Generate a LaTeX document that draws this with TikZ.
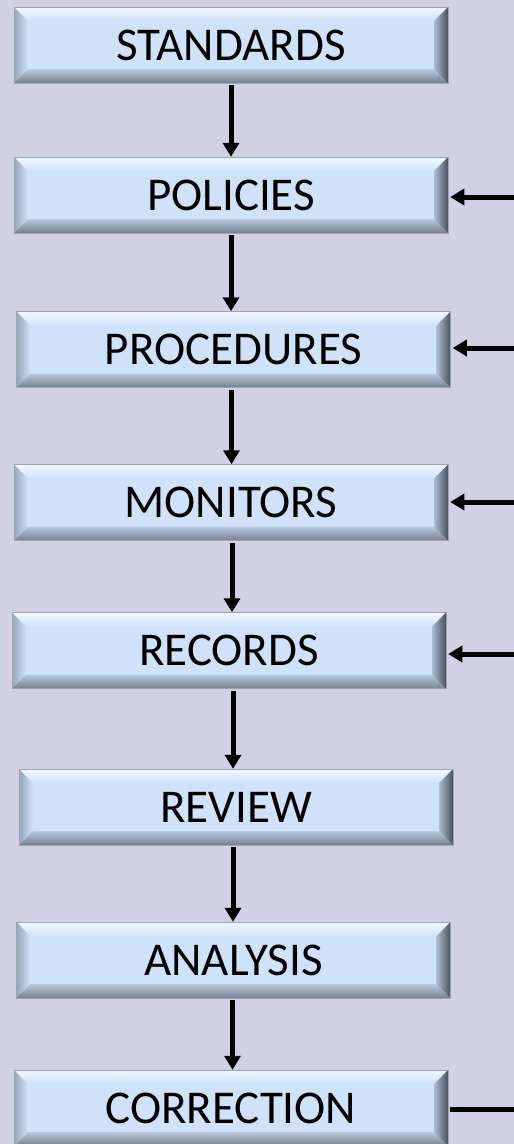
\documentclass[tikz,border=0pt]{standalone}
\usepackage{fontspec}
\setmainfont{Carlito}
\usetikzlibrary{arrows.meta}

\definecolor{bgcol}{HTML}{D2D0E4}
\definecolor{boxface}{HTML}{CFE2FA}
\definecolor{bevtop}{HTML}{F2F8FF}
\definecolor{bevleft}{HTML}{97A5B9}
\definecolor{bevright}{HTML}{48505E}
\definecolor{bevrightin}{HTML}{AEBDD2}
\definecolor{bevbot}{HTML}{76808F}
\definecolor{bevbotin}{HTML}{B9C9DE}
\definecolor{boxedge}{HTML}{9AA4B4}

\tikzset{
  bevelbox/.style={
    rectangle, minimum width=434pt, minimum height=76pt, inner sep=0pt,
    fill=boxface, draw=boxedge, line width=0.5pt,
    font=\fontsize{47}{50}\selectfont, text=black,
    path picture={
      \coordinate (ppnw) at (path picture bounding box.north west);
      \coordinate (ppne) at (path picture bounding box.north east);
      \coordinate (ppsw) at (path picture bounding box.south west);
      \coordinate (ppse) at (path picture bounding box.south east);
      % top bevel
      \shade[top color=bevtop, bottom color=boxface]
        (ppnw) -- (ppne) -- ([shift={(-14pt,-14pt)}]ppne) -- ([shift={(14pt,-14pt)}]ppnw) -- cycle;
      % left bevel
      \shade[left color=bevleft, right color=boxface]
        (ppnw) -- ([shift={(14pt,-14pt)}]ppnw) -- ([shift={(14pt,14pt)}]ppsw) -- (ppsw) -- cycle;
      % bottom bevel
      \shade[top color=bevbotin, bottom color=bevbot]
        (ppsw) -- ([shift={(14pt,14pt)}]ppsw) -- ([shift={(-14pt,14pt)}]ppse) -- (ppse) -- cycle;
      % right bevel
      \shade[left color=bevrightin, right color=bevright]
        (ppne) -- ([shift={(-14pt,-14pt)}]ppne) -- ([shift={(-14pt,14pt)}]ppse) -- (ppse) -- cycle;
    }
  },
  flow/.style={line width=5pt, -{Triangle[width=16pt,length=14pt]}},
  feed/.style={line width=5pt},
}

\begin{document}
\begin{tikzpicture}[x=1pt, y=-1pt]
  \fill[bgcol] (0,0) rectangle (514,1144);
  \useasboundingbox (0,0) rectangle (514,1144);

  \node[bevelbox] (standards)  at (231,45)    {STANDARDS};
  \node[bevelbox] (policies)   at (231,195)   {POLICIES};
  \node[bevelbox] (procedures) at (233.5,349.5) {PROCEDURES};
  \node[bevelbox] (monitors)   at (231,502.5) {MONITORS};
  \node[bevelbox] (records)    at (229,650.5) {RECORDS};
  \node[bevelbox] (review)     at (236,807)   {REVIEW};
  \node[bevelbox] (analysis)   at (233.5,960) {ANALYSIS};
  \node[bevelbox] (correction) at (231,1108)  {CORRECTION};

  % main downward chain
  \draw[flow] ([yshift=-2pt]standards.south)  -- (standards.south |- policies.north);
  \draw[flow] ([yshift=-2pt]policies.south)   -- (policies.south |- procedures.north);
  \draw[flow] ([shift={(-2pt,-2pt)}]procedures.south) -- ([xshift=-2pt]procedures.south |- monitors.north);
  \draw[flow] ([shift={(1pt,-2pt)}]monitors.south)   -- ([xshift=1pt]monitors.south |- records.north);
  \draw[flow] ([shift={(4pt,-2pt)}]records.south)    -- ([xshift=4pt]records.south |- review.north);
  \draw[flow] ([shift={(-3pt,-2pt)}]review.south)    -- ([xshift=-3pt]review.south |- analysis.north);
  \draw[flow] ([shift={(-1pt,-2pt)}]analysis.south)  -- ([xshift=-1pt]analysis.south |- correction.north);

  % feedback line coming in from the right
  \coordinate (fbpol) at (514,197);
  \coordinate (fbpro) at (514,348);
  \coordinate (fbmon) at (514,502);
  \coordinate (fbrec) at (514,654);
  \coordinate (fbcor) at (514,1109);
  \draw[flow] (fbpol) -- ([xshift=2pt]policies.east |- fbpol);
  \draw[flow] (fbpro) -- ([xshift=2pt]procedures.east |- fbpro);
  \draw[flow] (fbmon) -- ([xshift=2pt]monitors.east |- fbmon);
  \draw[flow] (fbrec) -- ([xshift=2pt]records.east |- fbrec);
  \draw[feed] ([xshift=2pt]correction.east |- fbcor) -- (fbcor);
\end{tikzpicture}
\end{document}
